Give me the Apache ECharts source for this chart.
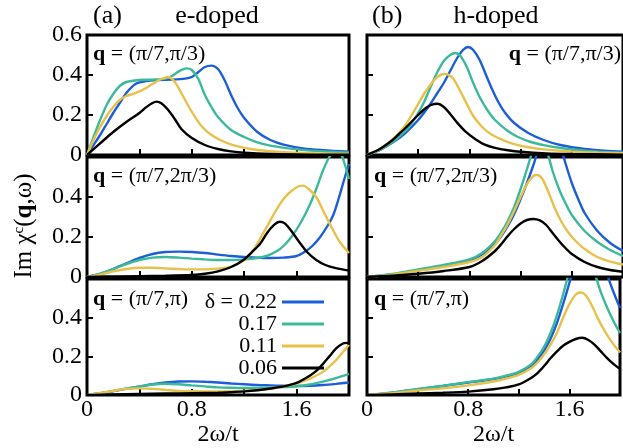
<!DOCTYPE html>
<html>
<head>
<meta charset="utf-8">
<script src="https://cdn.jsdelivr.net/npm/echarts@6/dist/echarts.min.js"></script>
<style>
html, body { margin: 0; padding: 0; background: #fff; }
#chart { width: 623px; height: 448px; }
</style>
</head>
<body>
<div id="chart"></div>
<script>
// doping levels and line colours
const deltaNames = ['δ = 0.22', '0.17', '0.11', '0.06'];
const lineColors = ['#1d5ed8', '#3cb99a', '#e8c14a', '#000000'];
const qLabels = ['(π/7,π/3)', '(π/7,2π/3)', '(π/7,π)'];
const xLabelTicks = ['0', '0.8', '1.6'];

// (a) e-doped, q = (pi/7, pi/3)
const e1_022 = [[0,0],[0.05,0.05],[0.1,0.1],[0.15,0.155],[0.2,0.21],[0.25,0.26],[0.3,0.31],[0.37,0.355],[0.45,0.37],[0.55,0.375],[0.65,0.377],[0.75,0.382],[0.8,0.39],[0.85,0.415],[0.9,0.44],[0.95,0.447],[1.0,0.43],[1.05,0.375],[1.1,0.3],[1.15,0.235],[1.2,0.185],[1.3,0.115],[1.4,0.075],[1.5,0.052],[1.65,0.033],[1.8,0.024],[2.0,0.016]];
const e1_017 = [[0,0],[0.05,0.09],[0.1,0.175],[0.15,0.25],[0.2,0.305],[0.25,0.345],[0.3,0.365],[0.4,0.375],[0.5,0.377],[0.6,0.382],[0.65,0.395],[0.7,0.418],[0.76,0.433],[0.8,0.425],[0.85,0.38],[0.9,0.3],[0.95,0.24],[1.0,0.19],[1.1,0.125],[1.2,0.09],[1.3,0.063],[1.4,0.047],[1.6,0.028],[1.8,0.018],[2.0,0.012]];
const e1_011 = [[0,0],[0.05,0.075],[0.1,0.14],[0.15,0.195],[0.2,0.24],[0.25,0.275],[0.3,0.295],[0.35,0.305],[0.4,0.318],[0.45,0.335],[0.5,0.355],[0.55,0.375],[0.62,0.39],[0.67,0.365],[0.72,0.31],[0.77,0.25],[0.82,0.195],[0.88,0.14],[0.95,0.1],[1.05,0.065],[1.15,0.043],[1.3,0.025],[1.5,0.014],[1.75,0.008],[2.0,0.005]];
const e1_006 = [[0,0],[0.1,0.058],[0.2,0.115],[0.3,0.165],[0.4,0.21],[0.45,0.238],[0.5,0.26],[0.53,0.267],[0.57,0.258],[0.62,0.225],[0.67,0.18],[0.72,0.13],[0.8,0.085],[0.9,0.05],[1.0,0.03],[1.1,0.018],[1.2,0.011],[1.4,0.005],[1.7,0.002],[2.0,0.001]];

// (a) e-doped, q = (pi/7, 2pi/3)
const e2_022 = [[0,0],[0.1,0.015],[0.2,0.04],[0.3,0.068],[0.4,0.095],[0.5,0.115],[0.6,0.125],[0.7,0.127],[0.8,0.125],[0.9,0.12],[1.0,0.112],[1.1,0.105],[1.2,0.1],[1.3,0.097],[1.4,0.095],[1.5,0.097],[1.6,0.105],[1.66,0.125],[1.72,0.155],[1.78,0.2],[1.84,0.26],[1.88,0.31],[1.92,0.39],[1.96,0.48],[2.0,0.565]];
const e2_017 = [[0,0],[0.1,0.017],[0.2,0.04],[0.3,0.065],[0.4,0.085],[0.5,0.097],[0.6,0.1],[0.7,0.097],[0.8,0.092],[0.9,0.088],[1.0,0.085],[1.1,0.085],[1.2,0.088],[1.3,0.095],[1.37,0.105],[1.45,0.13],[1.5,0.155],[1.56,0.2],[1.63,0.27],[1.7,0.36],[1.75,0.44],[1.8,0.53],[1.85,0.6],[1.9,0.64],[1.93,0.63],[1.96,0.58],[2.0,0.49]];
const e2_011 = [[0,0],[0.1,0.012],[0.2,0.028],[0.3,0.04],[0.4,0.046],[0.5,0.046],[0.6,0.043],[0.7,0.04],[0.8,0.038],[0.9,0.038],[1.0,0.042],[1.1,0.052],[1.2,0.085],[1.26,0.125],[1.32,0.19],[1.38,0.26],[1.44,0.33],[1.5,0.39],[1.56,0.43],[1.62,0.455],[1.65,0.457],[1.7,0.435],[1.75,0.4],[1.8,0.335],[1.87,0.245],[1.93,0.175],[2.0,0.12]];
const e2_006 = [[0,0],[0.2,0.002],[0.4,0.004],[0.6,0.006],[0.8,0.01],[0.9,0.016],[1.0,0.028],[1.1,0.05],[1.2,0.088],[1.26,0.125],[1.32,0.165],[1.38,0.225],[1.43,0.262],[1.47,0.276],[1.51,0.268],[1.56,0.23],[1.62,0.175],[1.68,0.125],[1.75,0.085],[1.82,0.06],[1.9,0.044],[2.0,0.032]];

// (a) e-doped, q = (pi/7, pi)
const e3_022 = [[0,0],[0.1,0.01],[0.2,0.02],[0.3,0.032],[0.4,0.044],[0.5,0.056],[0.6,0.065],[0.7,0.07],[0.8,0.071],[0.9,0.069],[1.0,0.065],[1.1,0.06],[1.2,0.056],[1.3,0.052],[1.4,0.05],[1.5,0.048],[1.6,0.047],[1.7,0.048],[1.8,0.052],[1.9,0.058],[2.0,0.065]];
const e3_017 = [[0,0],[0.1,0.01],[0.2,0.022],[0.3,0.034],[0.4,0.045],[0.5,0.055],[0.6,0.059],[0.7,0.056],[0.8,0.05],[0.9,0.045],[1.0,0.04],[1.1,0.038],[1.2,0.037],[1.3,0.037],[1.4,0.038],[1.5,0.041],[1.6,0.046],[1.7,0.055],[1.8,0.07],[1.9,0.088],[2.0,0.11]];
const e3_011 = [[0,0],[0.1,0.01],[0.2,0.022],[0.3,0.032],[0.4,0.035],[0.5,0.032],[0.6,0.027],[0.7,0.022],[0.8,0.02],[0.9,0.019],[1.0,0.019],[1.1,0.02],[1.2,0.022],[1.3,0.026],[1.4,0.033],[1.5,0.045],[1.6,0.06],[1.7,0.085],[1.8,0.12],[1.9,0.18],[1.95,0.22],[2.0,0.26]];
const e3_006 = [[0,0],[0.2,0.003],[0.4,0.006],[0.6,0.008],[0.8,0.01],[1.0,0.012],[1.1,0.015],[1.2,0.019],[1.3,0.025],[1.4,0.034],[1.5,0.045],[1.6,0.063],[1.7,0.1],[1.75,0.125],[1.8,0.16],[1.85,0.2],[1.9,0.24],[1.95,0.265],[1.98,0.27],[2.0,0.265]];

// (b) h-doped, q = (pi/7, pi/3)
const h1_022 = [[0,0],[0.1,0.025],[0.2,0.062],[0.3,0.11],[0.4,0.175],[0.45,0.215],[0.5,0.26],[0.55,0.31],[0.6,0.36],[0.65,0.42],[0.7,0.48],[0.75,0.525],[0.79,0.54],[0.83,0.525],[0.88,0.475],[0.93,0.4],[0.98,0.325],[1.03,0.26],[1.08,0.21],[1.15,0.16],[1.26,0.11],[1.38,0.075],[1.51,0.05],[1.7,0.03],[1.89,0.02],[2.0,0.016]];
const h1_017 = [[0,0],[0.1,0.025],[0.2,0.065],[0.3,0.12],[0.35,0.16],[0.4,0.21],[0.45,0.27],[0.5,0.345],[0.55,0.415],[0.6,0.47],[0.65,0.5],[0.69,0.51],[0.73,0.495],[0.78,0.44],[0.83,0.36],[0.88,0.29],[0.94,0.225],[1.0,0.175],[1.1,0.12],[1.18,0.09],[1.28,0.065],[1.39,0.048],[1.5,0.036],[1.64,0.025],[1.8,0.017],[2.0,0.012]];
const h1_011 = [[0,0],[0.1,0.03],[0.2,0.078],[0.25,0.11],[0.3,0.15],[0.35,0.2],[0.4,0.255],[0.45,0.31],[0.5,0.355],[0.55,0.39],[0.6,0.405],[0.63,0.403],[0.67,0.385],[0.72,0.33],[0.78,0.255],[0.83,0.195],[0.9,0.14],[0.96,0.108],[1.05,0.078],[1.13,0.058],[1.25,0.04],[1.4,0.027],[1.6,0.017],[1.8,0.012],[2.0,0.009]];
const h1_006 = [[0,0],[0.1,0.03],[0.2,0.075],[0.25,0.105],[0.3,0.135],[0.4,0.2],[0.45,0.23],[0.5,0.25],[0.55,0.256],[0.6,0.24],[0.65,0.205],[0.7,0.165],[0.77,0.117],[0.85,0.078],[0.92,0.052],[1.0,0.036],[1.1,0.024],[1.2,0.016],[1.4,0.008],[1.6,0.005],[2.0,0.002]];

// (b) h-doped, q = (pi/7, 2pi/3)
const h2_022 = [[0,0],[0.2,0.013],[0.42,0.035],[0.6,0.055],[0.8,0.083],[0.9,0.112],[1.0,0.165],[1.05,0.205],[1.1,0.255],[1.15,0.315],[1.2,0.39],[1.25,0.47],[1.3,0.56],[1.35,0.66],[1.4,0.74],[1.45,0.76],[1.5,0.68],[1.55,0.57],[1.6,0.47],[1.65,0.39],[1.7,0.32],[1.8,0.23],[1.9,0.17],[2.0,0.13]];
const h2_017 = [[0,0],[0.2,0.015],[0.42,0.04],[0.6,0.06],[0.8,0.088],[0.9,0.12],[1.0,0.18],[1.05,0.225],[1.1,0.28],[1.15,0.35],[1.2,0.44],[1.25,0.54],[1.3,0.64],[1.35,0.7],[1.4,0.64],[1.45,0.53],[1.5,0.44],[1.55,0.37],[1.6,0.31],[1.7,0.23],[1.8,0.175],[1.9,0.135],[2.0,0.105]];
const h2_011 = [[0,0],[0.2,0.012],[0.42,0.033],[0.6,0.05],[0.8,0.075],[0.9,0.1],[1.0,0.16],[1.05,0.21],[1.1,0.265],[1.15,0.33],[1.2,0.4],[1.25,0.465],[1.3,0.505],[1.33,0.51],[1.37,0.49],[1.42,0.42],[1.47,0.34],[1.52,0.275],[1.57,0.225],[1.63,0.18],[1.7,0.14],[1.8,0.1],[1.9,0.077],[2.0,0.062]];
const h2_006 = [[0,0],[0.2,0.006],[0.4,0.016],[0.6,0.03],[0.8,0.05],[0.9,0.08],[1.0,0.13],[1.05,0.165],[1.1,0.205],[1.15,0.24],[1.2,0.268],[1.25,0.285],[1.3,0.29],[1.35,0.283],[1.4,0.26],[1.45,0.22],[1.5,0.18],[1.55,0.145],[1.6,0.115],[1.7,0.075],[1.8,0.05],[1.9,0.035],[2.0,0.026]];

// (b) h-doped, q = (pi/7, pi)
const h3_022 = [[0,0],[0.2,0.013],[0.42,0.032],[0.6,0.047],[0.8,0.065],[1.0,0.083],[1.1,0.097],[1.2,0.115],[1.3,0.15],[1.35,0.185],[1.4,0.23],[1.45,0.29],[1.5,0.37],[1.55,0.47],[1.6,0.58],[1.65,0.7],[1.7,0.8],[1.75,0.84],[1.8,0.8],[1.85,0.72],[1.9,0.62],[1.95,0.53],[2.0,0.45]];
const h3_017 = [[0,0],[0.2,0.014],[0.42,0.033],[0.6,0.048],[0.8,0.067],[1.0,0.085],[1.1,0.1],[1.2,0.12],[1.3,0.16],[1.35,0.2],[1.4,0.25],[1.45,0.32],[1.5,0.41],[1.55,0.52],[1.6,0.64],[1.65,0.74],[1.7,0.78],[1.75,0.73],[1.8,0.63],[1.85,0.53],[1.9,0.45],[1.95,0.38],[2.0,0.32]];
const h3_011 = [[0,0],[0.2,0.01],[0.42,0.025],[0.6,0.035],[0.8,0.05],[1.0,0.07],[1.1,0.085],[1.2,0.105],[1.3,0.14],[1.35,0.17],[1.4,0.21],[1.45,0.26],[1.5,0.32],[1.55,0.4],[1.6,0.47],[1.65,0.52],[1.69,0.53],[1.73,0.515],[1.78,0.46],[1.83,0.39],[1.88,0.33],[1.94,0.27],[2.0,0.22]];
const h3_006 = [[0,0],[0.2,0.004],[0.4,0.008],[0.6,0.012],[0.8,0.018],[1.0,0.03],[1.1,0.04],[1.2,0.055],[1.3,0.09],[1.35,0.115],[1.4,0.15],[1.45,0.19],[1.5,0.225],[1.55,0.255],[1.6,0.275],[1.65,0.29],[1.7,0.296],[1.75,0.285],[1.8,0.26],[1.85,0.225],[1.9,0.19],[1.95,0.16],[2.0,0.135]];

// grid order: TL, TR, ML, MR, BL, BR
const panelData = [
  [e1_022, e1_017, e1_011, e1_006],
  [h1_022, h1_017, h1_011, h1_006],
  [e2_022, e2_017, e2_011, e2_006],
  [h2_022, h2_017, h2_011, h2_006],
  [e3_022, e3_017, e3_011, e3_006],
  [h3_022, h3_017, h3_011, h3_006]
];

const FONT = "'Liberation Serif', 'Times New Roman', serif";
const chart = echarts.init(document.getElementById('chart'));

const rowTop = [35, 157, 279];
const grids = [], xAxes = [], yAxes = [], series = [];
for (let i = 0; i < 6; i++) {
  const row = Math.floor(i / 2), col = i % 2;
  grids.push({
    left: col === 0 ? 87 : 367,
    right: col === 0 ? 274 : -8,
    top: rowTop[row],
    height: 120,
    show: true,
    borderColor: '#000',
    borderWidth: 3,
    backgroundColor: 'transparent'
  });
  xAxes.push({
    type: 'value', gridIndex: i, min: 0, max: 2, interval: 0.4,
    axisLine: { show: false },
    splitLine: { show: false },
    axisTick: { inside: true, length: 6, lineStyle: { color: '#000', width: 2 } },
    axisLabel: {
      show: row === 2, margin: 3, color: '#000', fontFamily: FONT, fontSize: 24,
      formatter: function (v) {
        const k = Math.round(v * 10);
        return k === 0 ? xLabelTicks[0] : k === 8 ? xLabelTicks[1] : k === 16 ? xLabelTicks[2] : '';
      }
    },
    name: row === 2 ? '2ω/t' : '',
    nameLocation: 'middle', nameGap: 24,
    nameTextStyle: { color: '#000', fontFamily: FONT, fontSize: 24 }
  });
  yAxes.push({
    type: 'value', gridIndex: i, min: 0, max: 0.6, interval: 0.2,
    axisLine: { show: false },
    splitLine: { show: false },
    axisTick: { inside: true, length: 6, lineStyle: { color: '#000', width: 2 } },
    axisLabel: {
      show: col === 0, margin: 5, color: '#000', fontFamily: FONT, fontSize: 24,
      showMaxLabel: row === 0,
      formatter: function (v) { return v === 0 ? '0' : v.toFixed(1); }
    },
    name: i === 2 ? 'Im χ{sup|c}({b|q},ω)' : '',
    nameLocation: 'middle', nameGap: 50, nameRotate: 90,
    nameTextStyle: {
      color: '#000', fontFamily: FONT, fontSize: 25, padding: [0, 18, 0, 0],
      rich: {
        sup: { fontFamily: FONT, fontSize: 15, color: '#000', padding: [0, 0, 10, 0] },
        b: { fontFamily: FONT, fontSize: 25, fontWeight: 'bold', color: '#000' }
      }
    }
  });
  panelData[i].forEach(function (d, k) {
    series.push({
      name: deltaNames[k], type: 'line', xAxisIndex: i, yAxisIndex: i,
      data: d, smooth: 0.3, showSymbol: false, symbol: 'none',
      lineStyle: { color: lineColors[k], width: 2.4 },
      itemStyle: { color: lineColors[k] },
      z: 2 + k, silent: true
    });
  });
}

function qText(x, y, label, align) {
  return {
    type: 'text', x: x, y: y, z: 10,
    style: {
      text: '{b|q} = ' + label, x: 0, y: 0,
      align: align || 'left', verticalAlign: 'middle',
      fill: '#000', fontFamily: FONT, fontSize: 22,
      rich: { b: { fontFamily: FONT, fontSize: 22, fontWeight: 'bold', fill: '#000' } }
    }
  };
}
function plainText(x, y, text, align) {
  return {
    type: 'text', x: x, y: y, z: 10,
    style: { text: text, align: align || 'left', verticalAlign: 'middle',
      fill: '#000', fontFamily: FONT, fontSize: 26 }
  };
}

chart.setOption({
  backgroundColor: '#fff',
  animation: false,
  grid: grids,
  xAxis: xAxes,
  yAxis: yAxes,
  series: series,
  legend: {
    data: deltaNames,
    orient: 'vertical', align: 'right',
    left: 193, top: 286,
    icon: 'rect', itemWidth: 42, itemHeight: 3, itemGap: 0,
    selectedMode: false,
    textStyle: { color: '#000', fontFamily: FONT, fontSize: 22, width: 79, align: 'right', lineHeight: 22 }
  },
  graphic: [
    plainText(93, 16, '(a)'),
    plainText(217, 16, 'e-doped', 'center'),
    plainText(372, 16, '(b)'),
    plainText(496, 16, 'h-doped', 'center'),
    qText(93, 54, qLabels[0]),
    qText(621, 54, qLabels[0], 'right'),
    qText(93, 176, qLabels[1]),
    qText(374, 176, qLabels[1]),
    qText(93, 299, qLabels[2]),
    qText(374, 299, qLabels[2])
  ]
});
</script>
</body>
</html>
